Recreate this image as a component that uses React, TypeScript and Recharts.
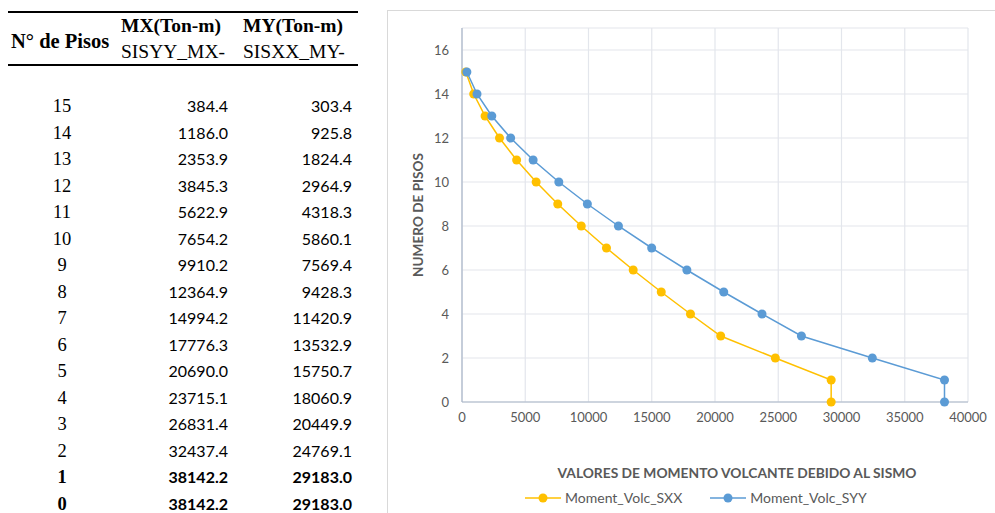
import React from 'react';
import {
  CartesianGrid,
  Scatter,
  ScatterChart,
  XAxis,
  YAxis,
  ZAxis,
} from 'recharts';

const floors = [15, 14, 13, 12, 11, 10, 9, 8, 7, 6, 5, 4, 3, 2, 1, 0];
const mxValues = [
  384.4, 1186.0, 2353.9, 3845.3, 5622.9, 7654.2, 9910.2, 12364.9, 14994.2, 17776.3, 20690.0,
  23715.1, 26831.4, 32437.4, 38142.2, 38142.2,
];
const myValues = [
  303.4, 925.8, 1824.4, 2964.9, 4318.3, 5860.1, 7569.4, 9428.3, 11420.9, 13532.9, 15750.7,
  18060.9, 20449.9, 24769.1, 29183.0, 29183.0,
];
const xTicks = [0, 5000, 10000, 15000, 20000, 25000, 30000, 35000, 40000];
const yTicks = [0, 2, 4, 6, 8, 10, 12, 14, 16];
const boldFloors = [1, 0];

const SXX_COLOR = '#FFC000';
const SYY_COLOR = '#5B9BD5';
const TEXT = '#595959';
const SANS = 'Lato, "Open Sans", sans-serif';
const SERIF = '"Liberation Serif", "DejaVu Serif", serif';

// SXX uses the MY column, SYY uses the MX column
const sxxData = floors.map((f, i) => ({ x: myValues[i], y: f }));
const syyData = floors.map((f, i) => ({ x: mxValues[i], y: f }));

function fmt(v: number) {
  return v.toFixed(1);
}

function Table() {
  const rowTop = 106;
  const rowStep = 26.53;
  const rule = { position: 'absolute' as const, left: 8, width: 350, height: 2, background: '#000' };
  return (
    <div style={{ position: 'absolute', left: 0, top: 0, width: 380, height: 513 }}>
      <div style={{ ...rule, top: 11 }} />
      <div style={{ ...rule, top: 64 }} />
      <div
        style={{
          position: 'absolute', left: 11, top: 29, fontFamily: SERIF, fontWeight: 700,
          fontSize: 20.5, lineHeight: '24px', whiteSpace: 'nowrap', color: '#000',
        }}
      >
        N° de Pisos
      </div>
      {[
        { title: 'MX(Ton-m)', sub: 'SISYY_MX-', left: 121 },
        { title: 'MY(Ton-m)', sub: 'SISXX_MY-', left: 243 },
      ].map((h) => (
        <div key={h.title} style={{ position: 'absolute', left: h.left, top: 13, whiteSpace: 'nowrap' }}>
          <div style={{ fontFamily: SERIF, fontWeight: 700, fontSize: 19.5, lineHeight: '26px' }}>{h.title}</div>
          <div style={{ fontFamily: SERIF, fontSize: 19.5, lineHeight: '26px' }}>{h.sub}</div>
        </div>
      ))}
      {floors.map((f, i) => {
        const bold = boldFloors.includes(f);
        const top = rowTop + i * rowStep - 12;
        return (
          <React.Fragment key={f}>
            <div
              style={{
                position: 'absolute', left: 42, width: 40, top, height: 24, lineHeight: '24px',
                textAlign: 'center', fontFamily: SERIF, fontSize: 18.5, fontWeight: bold ? 700 : 400,
              }}
            >
              {f}
            </div>
            <div
              style={{
                position: 'absolute', left: 128, width: 100, top, height: 24, lineHeight: '24px',
                textAlign: 'right', fontFamily: SANS, fontSize: 16, fontWeight: bold ? 700 : 400,
              }}
            >
              {fmt(mxValues[i])}
            </div>
            <div
              style={{
                position: 'absolute', left: 252, width: 100, top, height: 24, lineHeight: '24px',
                textAlign: 'right', fontFamily: SANS, fontSize: 16, fontWeight: bold ? 700 : 400,
              }}
            >
              {fmt(myValues[i])}
            </div>
          </React.Fragment>
        );
      })}
    </div>
  );
}

function LegendItem({ color, label }: { color: string; label: string }) {
  return (
    <div style={{ display: 'flex', alignItems: 'center', marginRight: 28 }}>
      <svg width={36} height={12} style={{ marginRight: 4 }}>
        <line x1={0} y1={6} x2={36} y2={6} stroke={color} strokeWidth={1.5} />
        <circle cx={18} cy={6} r={4.5} fill={color} />
      </svg>
      <span style={{ fontFamily: SANS, fontSize: 14, color: TEXT }}>{label}</span>
    </div>
  );
}

function Chart() {
  return (
    <div
      style={{
        position: 'absolute', left: 387, top: 10, width: 608, height: 503,
        borderTop: '1px solid #d9d9d9', borderLeft: '1px solid #d9d9d9', background: '#fff',
      }}
    >
      <ScatterChart width={607} height={502} margin={{ top: 17, right: 27, left: 0, bottom: 81 }}>
        <CartesianGrid stroke="#e3e6ec" strokeWidth={1.2} />
        <XAxis
          type="number"
          dataKey="x"
          domain={[0, 40000]}
          ticks={xTicks}
          interval={0}
          height={30}
          axisLine={{ stroke: '#aab6c8', strokeWidth: 1.2 }}
          tickLine={false}
          tickMargin={5}
          tick={{ fill: TEXT, fontSize: 13, fontFamily: SANS }}
          label={(props: any) => {
            const vb = props.viewBox;
            return (
              <text
                x={vb.x + vb.width / 2 + 22}
                y={vb.y + 70}
                textAnchor="middle"
                dominantBaseline="central"
                fill={TEXT}
                fontFamily={SANS}
                fontWeight={700}
                fontSize={13.8}
              >
                VALORES DE MOMENTO VOLCANTE DEBIDO AL SISMO
              </text>
            );
          }}
        />
        <YAxis
          type="number"
          dataKey="y"
          domain={[0, 17]}
          ticks={yTicks}
          interval={0}
          width={74}
          axisLine={{ stroke: '#aab6c8', strokeWidth: 1.2 }}
          tickLine={false}
          tickMargin={7}
          tick={{ fill: TEXT, fontSize: 13, fontFamily: SANS }}
          label={(props: any) => {
            const vb = props.viewBox;
            const cx = vb.x + 30;
            const cy = vb.y + vb.height / 2;
            return (
              <text
                x={cx}
                y={cy}
                transform={`rotate(-90 ${cx} ${cy})`}
                textAnchor="middle"
                dominantBaseline="central"
                fill={TEXT}
                fontFamily={SANS}
                fontWeight={700}
                fontSize={13.6}
              >
                NUMERO DE PISOS
              </text>
            );
          }}
        />
        <ZAxis range={[70, 70]} />
        <Scatter
          name="Moment_Volc_SXX"
          data={sxxData}
          fill={SXX_COLOR}
          line={{ stroke: SXX_COLOR, strokeWidth: 1.5 }}
          lineType="joint"
          shape="circle"
          isAnimationActive={false}
        />
        <Scatter
          name="Moment_Volc_SYY"
          data={syyData}
          fill={SYY_COLOR}
          line={{ stroke: SYY_COLOR, strokeWidth: 1.5 }}
          lineType="joint"
          shape="circle"
          isAnimationActive={false}
        />
      </ScatterChart>
      <div style={{ position: 'absolute', left: 137, top: 478, display: 'flex' }}>
        <LegendItem color={SXX_COLOR} label="Moment_Volc_SXX" />
        <LegendItem color={SYY_COLOR} label="Moment_Volc_SYY" />
      </div>
    </div>
  );
}

export default function App() {
  return (
    <div
      style={{
        position: 'absolute', left: 0, top: 0, width: 995, height: 513, overflow: 'hidden',
        background: '#fff', color: '#000',
      }}
    >
      <Table />
      <Chart />
    </div>
  );
}
